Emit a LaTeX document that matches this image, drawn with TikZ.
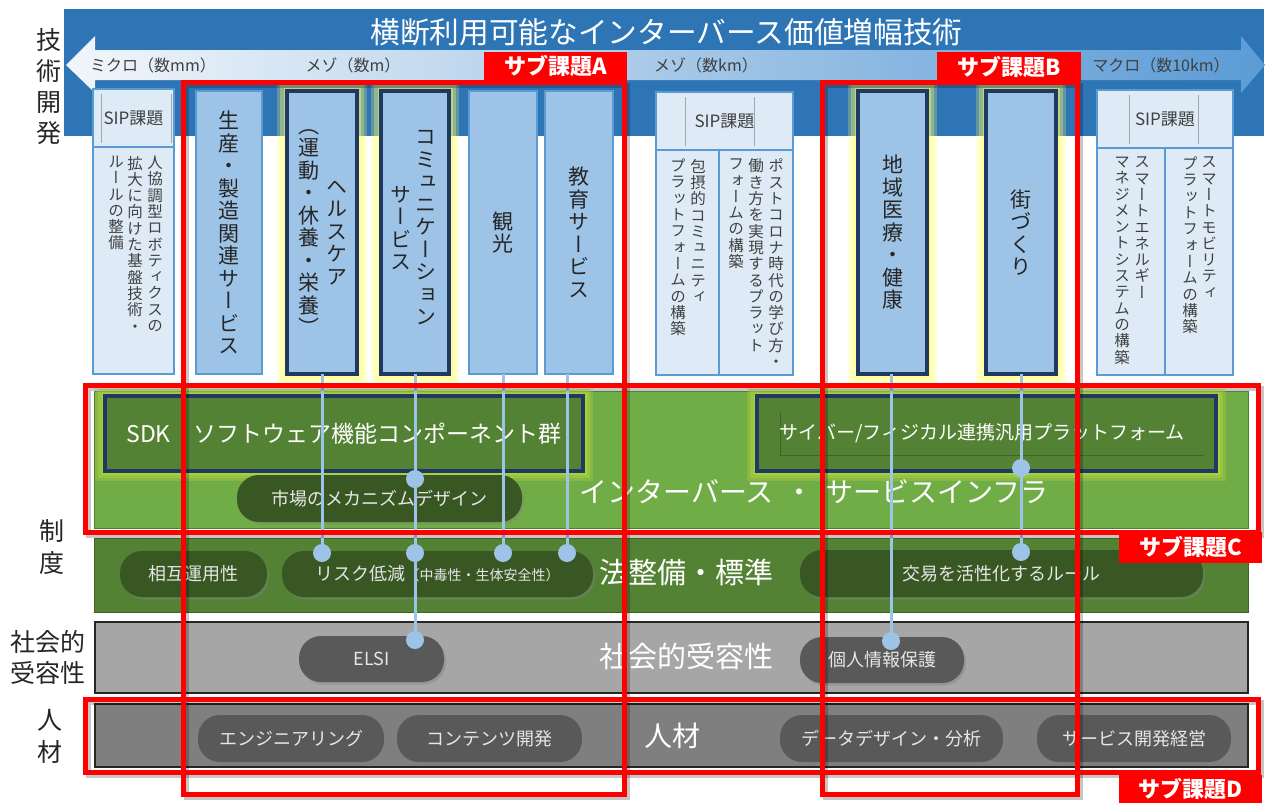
\documentclass[tikz,border=0pt]{standalone}
\usepackage{fontspec}
\setmainfont{Noto Sans CJK JP}
\newfontfamily\vfont{Noto Sans CJK JP}[RawFeature=+vert]
\usetikzlibrary{shadows}
\definecolor{bandblue}{HTML}{2E75B6}
\definecolor{arrowL}{HTML}{F2F6FB}
\definecolor{arrowR}{HTML}{5B9BD5}
\definecolor{boxfill}{HTML}{9DC3E6}
\definecolor{boxline}{HTML}{5B9BD5}
\definecolor{navy}{HTML}{203864}
\definecolor{sipfill}{HTML}{DEEBF7}
\definecolor{infragreen}{HTML}{70AD47}
\definecolor{infraline}{HTML}{507E32}
\definecolor{lawgreen}{HTML}{548235}
\definecolor{lawline}{HTML}{3E6527}
\definecolor{pillgreen}{HTML}{385723}
\definecolor{socgray}{HTML}{A6A6A6}
\definecolor{hrgray}{HTML}{7F7F7F}
\definecolor{pillgray}{HTML}{595959}
\definecolor{pilltext}{HTML}{E6E6E6}
\definecolor{connblue}{HTML}{9DC3E6}
\definecolor{glowY}{HTML}{FFFF66}
\definecolor{glowG}{HTML}{C5E03A}
\definecolor{txtgray}{HTML}{404040}
\definecolor{ink}{HTML}{262626}
\definecolor{hdrline}{HTML}{A0A8B0}

\ExplSyntaxOn
\seq_new:N \l_my_chars_seq
\NewDocumentCommand{\vst}{m}{
  \seq_clear:N \l_my_chars_seq
  \tl_map_inline:nn {#1} { \seq_put_right:Nn \l_my_chars_seq {##1} }
  \seq_use:Nn \l_my_chars_seq { \\ }
}
\ExplSyntaxOff

\newcommand\glowbox[5]{%
  \fill[#5,opacity=0.25] (#1-10,#2-10) rectangle (#3+10,#4+10);
  \fill[#5,opacity=0.3] (#1-7,#2-7) rectangle (#3+7,#4+7);
  \fill[#5,opacity=0.4] (#1-3.5,#2-3.5) rectangle (#3+3.5,#4+3.5);}

\tikzset{
  svcbox/.style={draw=boxline, line width=2pt, fill=boxfill, minimum height=283pt, align=center,
    font=\vfont\fontsize{21}{22.5}\selectfont, text=ink},
  navybox/.style={svcbox, draw=navy, line width=3.5pt},
  siphead/.style={draw=boxline, line width=1.8pt, fill=sipfill, font=\fontsize{17}{19}\selectfont, text=txtgray},
  sipbody/.style={draw=boxline, line width=1.8pt, fill=sipfill},
  vsmall/.style={align=center, font=\vfont\fontsize{15.5}{16.3}\selectfont, text=txtgray, anchor=north},
  vbig/.style={align=center, font=\vfont\fontsize{21}{22.5}\selectfont, text=ink},
  pill/.style={fill=pillgreen, rounded corners=22pt, text=pilltext, font=\fontsize{18}{20}\selectfont,
    drop shadow={opacity=0.4, shadow xshift=2pt, shadow yshift=-2.5pt}},
  gpill/.style={pill, fill=pillgray},
  dot/.style={circle, fill=connblue, minimum size=18pt},
  conn/.style={draw=connblue, line width=3pt},
  redlabel/.style={fill=red, text=white, font=\bfseries\fontsize{22}{24}\selectfont},
  bigtext/.style={text=white, font=\fontsize{29}{32}\selectfont},
  leftlbl/.style={align=center, text=ink},
  arrlbl/.style={text=txtgray, font=\fontsize{16}{18}\selectfont},
  darkbox/.style={draw=navy, line width=3.5pt, fill=lawgreen, text=white},
}

\begin{document}
\begin{tikzpicture}[x=1pt,y=-1pt, every node/.style={inner sep=0pt, outer sep=0pt}]
\useasboundingbox (0,0) rectangle (1266,803);
\fill[white] (0,0) rectangle (1266,803);

% technology band
\fill[bandblue] (64,9) rectangle (1264,136);
\shade[left color=arrowL, right color=arrowR]
  (66,65) -- (95,36) -- (95,50) -- (1241,50) -- (1241,36) -- (1265,65)
  -- (1241,93) -- (1241,80) -- (95,80) -- (95,93) -- cycle;
\node[bigtext, font=\fontsize{29.7}{32}\selectfont] (title) at (666.5,32) {横断利用可能なインターバース価値増幅技術};
\node[arrlbl] (lbMicro) at (153,65) {ミクロ（数mm）};
\node[arrlbl] (lbMesoM) at (353,65) {メゾ（数m）};
\node[arrlbl] (lbMesoKm) at (706,65) {メゾ（数km）};
\node[arrlbl] (lbMacro) at (1161,65) {マクロ（数10km）};

% left row labels
\node[leftlbl, font=\fontsize{25}{31}\selectfont] (lblTech) at (49,86.5) {技\\術\\開\\発};
\node[leftlbl, font=\fontsize{25}{32}\selectfont] (lblSys) at (52,547) {制\\度};
\node[leftlbl, font=\fontsize{25}{31}\selectfont] (lblSoc) at (48,657.5) {社会的\\受容性};
\node[leftlbl, font=\fontsize{25}{32}\selectfont] (lblHR) at (50,736) {人\\材};

% glows of highlighted services
\glowbox{287}{91}{357}{374}{glowY}
\glowbox{381}{91}{449}{374}{glowY}
\glowbox{858}{91}{927}{374}{glowY}
\glowbox{986}{91}{1056}{374}{glowY}

% SIP boxes
\node[siphead, minimum width=81pt, minimum height=58pt] (sipLh) at (133.5,118) {SIP課題};
\node[sipbody, minimum width=81pt, minimum height=227pt] (sipLb) at (133.5,260.5) {};
\node[siphead, minimum width=137pt, minimum height=58pt] (sipMh) at (724.5,121) {SIP課題};
\node[sipbody, minimum width=137pt, minimum height=225pt] (sipMb) at (724.5,262.5) {};
\node[siphead, minimum width=136pt, minimum height=58pt] (sipRh) at (1165,119) {SIP課題};
\node[sipbody, minimum width=136pt, minimum height=227pt] (sipRb) at (1165,261.5) {};
\draw[hdrline, line width=0.6pt] (101,94) -- (101,143) (171,94) -- (171,143);
\draw[hdrline, line width=0.6pt] (685,97) -- (685,146) (754,97) -- (754,146);
\draw[hdrline, line width=0.6pt] (1129,95) -- (1129,144) (1198,95) -- (1198,144);
\draw[boxline, line width=1.8pt] (719,150) -- (719,375);
\draw[boxline, line width=1.8pt] (1165,148) -- (1165,375);

\node[vsmall] (tL1) at (155,156) {\vst{人協調型ロボティクスの}};
\node[vsmall] (tL2) at (135,156) {\vst{拡大に向けた基盤技術・}};
\node[vsmall] (tL3) at (116,156) {\vst{ルールの整備}};
\node[vsmall] (tM1) at (698,159) {\vst{包摂的コミュニティ}};
\node[vsmall] (tM2) at (678,159) {\vst{プラットフォームの構築}};
\node[vsmall] (tM3) at (776,159) {\vst{ポストコロナ時代の学び方・}};
\node[vsmall] (tM4) at (756,159) {\vst{働き方を実現するプラット}};
\node[vsmall] (tM5) at (736,159) {\vst{フォームの構築}};
\node[vsmall] (tR1) at (1142,157) {\vst{スマートエネルギー}};
\node[vsmall] (tR2) at (1122,157) {\vst{マネジメントシステムの構築}};
\node[vsmall] (tR3) at (1209,157) {\vst{スマートモビリティ}};
\node[vsmall] (tR4) at (1190,157) {\vst{プラットフォームの構築}};

% service boxes
\node[svcbox, minimum width=66pt] (seisan) at (229,232.5) {\vst{生産・製造関連サービス}};
\node[navybox, minimum width=70pt] (kenko) at (322,232.5) {};
\node[vbig] (kenkoA) at (337,232.5) {\vst{ヘルスケア}};
\node[vbig] (kenkoB) at (309,232.5) {\vst{（運動・休養・栄養）}};
\node[navybox, minimum width=68pt] (comm) at (415,232.5) {};
\node[vbig] (commA) at (426,228) {\vst{コミュニケーション}};
\node[vbig] (commB) at (401,228) {\vst{サービス}};
\node[svcbox, minimum width=68pt] (kanko) at (503,232.5) {\vst{観光}};
\node[svcbox, minimum width=68pt] (kyoiku) at (579,232.5) {\vst{教育サービス}};
\node[navybox, minimum width=69pt] (chiiki) at (892.5,232.5) {\vst{地域医療・健康}};
\node[navybox, minimum width=70pt] (machi) at (1021,232.5) {\vst{街づくり}};

% layers
\draw[fill=infragreen, draw=infraline, line width=1pt] (94,391) rectangle (1248,528);
\draw[fill=lawgreen, draw=lawline, line width=1pt] (94,538) rectangle (1248,612);
\draw[fill=socgray, draw=ink, line width=1.5pt] (95,622) rectangle (1248,693);
\draw[fill=hrgray, draw=ink, line width=1.5pt] (95,704) rectangle (1248,767);

\node[bigtext, font=\fontsize{28}{32}\selectfont] (infraT) at (814,492) {インターバース\hspace{12pt}・\hspace{12pt}サービスインフラ};
\node[bigtext] (lawT) at (686,572) {法整備・標準};
\node[bigtext] (socT) at (686,656) {社会的受容性};
\node[bigtext, font=\fontsize{28}{32}\selectfont] (hrT) at (672,736) {人材};

% platform boxes
\glowbox{105}{396}{583}{471}{glowG}
\glowbox{757}{396}{1216}{471}{glowG}
\node[darkbox, minimum width=478pt, minimum height=75pt, font=\fontsize{23}{26}\selectfont] (sdk) at (344,433.5) {SDK　ソフトウェア機能コンポーネント群};
\node[darkbox, minimum width=459pt, minimum height=75pt] (cyber) at (986.5,433.5) {};
\draw[lawline, line width=0.8pt] (780,412) -- (780,455) -- (1204,455);
\node[text=white, font=\fontsize{19}{22}\selectfont] (cyberT) at (982,433) {サイバー/フィジカル連携汎用プラットフォーム};

% pills
\node[pill, minimum width=285pt, minimum height=47pt] (market) at (379.5,498.5) {市場のメカニズムデザイン};
\node[pill, minimum width=147pt, minimum height=46pt] (interop) at (193.5,574) {相互運用性};
\node[pill, minimum width=311pt, minimum height=46pt] (risk) at (437.5,574) {リスク低減{\fontsize{14}{16}\selectfont （中毒性・生体安全性）}};
\node[pill, minimum width=403pt, minimum height=47pt] (trade) at (1001.5,573.5) {交易を活性化するルール};
\node[gpill, minimum width=145pt, minimum height=46pt] (elsi) at (371.5,659) {ELSI};
\node[gpill, minimum width=164pt, minimum height=46pt] (privacy) at (882,660) {個人情報保護};
\node[gpill, minimum width=186pt, minimum height=47pt] (eng) at (291,738.5) {エンジニアリング};
\node[gpill, minimum width=185pt, minimum height=47pt] (content) at (489.5,738.5) {コンテンツ開発};
\node[gpill, minimum width=223pt, minimum height=47pt] (datad) at (891.5,738.5) {データデザイン・分析};
\node[gpill, minimum width=194pt, minimum height=47pt] (svcmgmt) at (1134,738.5) {サービス開発経営};

% connectors
\coordinate (pk) at (322,553);
\coordinate (pc1) at (415,479);
\coordinate (pc2) at (415,553);
\coordinate (pc3) at (415,640);
\coordinate (pt) at (503,553);
\coordinate (pe) at (567,553);
\coordinate (pch) at (891,641);
\coordinate (pm1) at (1021,468);
\coordinate (pm2) at (1021,552);
\draw[conn] (kenko.south) -- (pk);
\draw[conn] (comm.south) -- (pc3);
\draw[conn] (kanko.south) -- (pt);
\draw[conn] (kyoiku.south -| pe) -- (pe);
\draw[conn] (chiiki.south -| pch) -- (pch);
\draw[conn] (machi.south) -- (pm2);
\node[dot] (dk) at (pk) {};
\node[dot] (dc1) at (pc1) {};
\node[dot] (dc2) at (pc2) {};
\node[dot] (dc3) at (pc3) {};
\node[dot] (dt) at (pt) {};
\node[dot] (de) at (pe) {};
\node[dot] (dch) at (pch) {};
\node[dot] (dm1) at (pm1) {};
\node[dot] (dm2) at (pm2) {};

% red frames: shadows
\begin{scope}[black, opacity=0.22, line width=5pt]
\draw (186.5,85.5) rectangle (627.5,797.5);
\draw (825.5,85.5) rectangle (1080,797.5);
\draw (88.5,388.5) rectangle (1261.5,535.5);
\draw (88.5,702.5) rectangle (1261.5,775.5);
\end{scope}
\begin{scope}[red, line width=5pt]
\draw (183.5,82.5) rectangle (624.5,794.5);
\draw (822.5,82.5) rectangle (1077,794.5);
\draw (85.5,385.5) rectangle (1258.5,532.5);
\draw (85.5,699.5) rectangle (1258.5,772.5);
\end{scope}
\node[redlabel, minimum width=143pt, minimum height=28pt] (labA) at (555.5,66) {サブ課題A};
\node[redlabel, minimum width=144pt, minimum height=30pt] (labB) at (1009,67) {サブ課題B};
\node[redlabel, minimum width=143pt, minimum height=31pt] (labC) at (1190.5,547.5) {サブ課題C};
\node[redlabel, minimum width=143pt, minimum height=28pt] (labD) at (1190.5,789) {サブ課題D};
\end{tikzpicture}
\end{document}
